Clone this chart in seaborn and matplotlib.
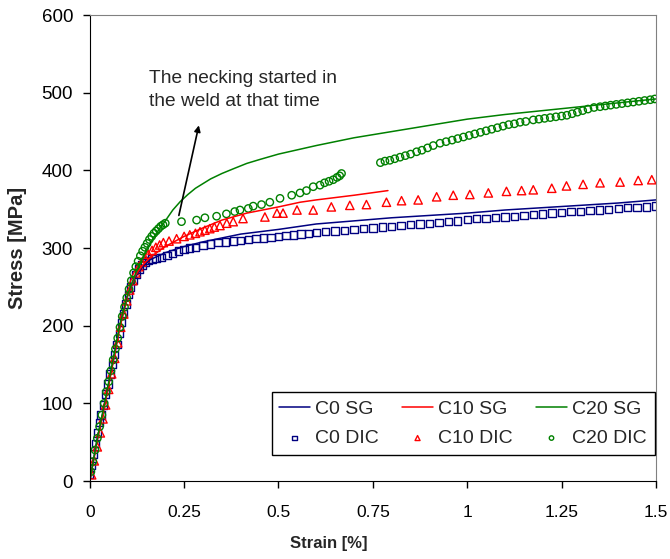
import matplotlib
matplotlib.use('Agg')
import matplotlib.pyplot as plt
import seaborn as sns

# C0 / C10 / C20 strain gauge curves (strain %, stress MPa)
c0_sg_strain = [0, 0.02, 0.04, 0.06, 0.08, 0.1, 0.12, 0.14, 0.16, 0.2, 0.25, 0.3, 0.4, 0.5,
                0.6, 0.7, 0.8, 0.9, 1.0, 1.1, 1.2, 1.3, 1.4, 1.5]
c0_sg_stress = [0, 55, 100, 150, 200, 238, 262, 276, 285, 294, 302, 308, 318, 324,
                331, 335, 339, 342, 345, 349, 352, 355, 358, 362]

c10_sg_strain = [0, 0.02, 0.04, 0.06, 0.08, 0.1, 0.12, 0.14, 0.16, 0.2, 0.25, 0.3, 0.35,
                 0.416, 0.5, 0.557, 0.6, 0.7, 0.79]
c10_sg_stress = [0, 52, 98, 148, 198, 238, 264, 278, 288, 302, 315, 326, 336,
                 345, 353, 359, 362, 368, 374]

c20_sg_strain = [0, 0.02, 0.04, 0.06, 0.08, 0.1, 0.125, 0.15, 0.175, 0.2, 0.22, 0.24, 0.26,
                 0.28, 0.3, 0.32, 0.35, 0.38, 0.416, 0.45, 0.5, 0.6, 0.7, 0.8, 0.9, 1.0,
                 1.1, 1.2, 1.3, 1.4, 1.5]
c20_sg_stress = [0, 55, 102, 152, 202, 240, 272, 298, 318, 335, 349, 360, 369,
                 377, 383, 389, 396, 402, 409, 414, 421, 432, 442, 450, 458, 466,
                 472, 477, 482, 487, 492]

# DIC measurements
c0_dic_strain = [0.0, 0.005, 0.01, 0.015, 0.02, 0.025, 0.03, 0.036, 0.042, 0.048, 0.054, 0.06,
                 0.066, 0.072, 0.078, 0.084, 0.09, 0.096, 0.102, 0.108, 0.115, 0.122, 0.13,
                 0.138, 0.146, 0.155, 0.165, 0.175, 0.19, 0.205, 0.22, 0.235, 0.25, 0.265,
                 0.28, 0.3, 0.32, 0.34, 0.36, 0.38, 0.4, 0.42, 0.44, 0.46, 0.48, 0.5, 0.52,
                 0.54, 0.56, 0.58, 0.6, 0.625, 0.65, 0.675, 0.7, 0.725, 0.75, 0.775, 0.8,
                 0.825, 0.85, 0.875, 0.9, 0.925, 0.95, 0.975, 1.0, 1.025, 1.05, 1.075, 1.1,
                 1.125, 1.15, 1.175, 1.2, 1.225, 1.25, 1.275, 1.3, 1.325, 1.35, 1.375, 1.4,
                 1.425, 1.45, 1.475, 1.5]
c0_dic_stress = [8, 20, 35, 48, 62, 75, 85, 98, 112, 125, 138, 150,
                 163, 176, 190, 204, 216, 228, 240, 250, 258, 266, 273,
                 278, 281, 284, 286, 287, 288, 290, 293, 296, 298, 300,
                 301, 303, 305, 307, 308, 309, 310, 311, 312, 313, 314, 315, 316,
                 317, 318, 319, 320, 321, 322, 323, 324, 325, 326, 327, 328,
                 329, 330, 331, 332, 333, 334, 335, 337, 338, 338, 339, 340,
                 341, 342, 343, 344, 345, 346, 347, 347, 348, 349, 350, 351,
                 352, 352, 353, 354]

c10_dic_strain = [0.005, 0.012, 0.02, 0.028, 0.035, 0.042, 0.05, 0.058, 0.066, 0.074, 0.082,
                  0.09, 0.098, 0.106, 0.114, 0.122, 0.13, 0.138, 0.146, 0.155, 0.165, 0.175,
                  0.185, 0.195, 0.21, 0.23, 0.25, 0.265, 0.28, 0.292, 0.305, 0.318, 0.33,
                  0.345, 0.363, 0.38, 0.406, 0.464, 0.496, 0.512, 0.549, 0.592, 0.640, 0.689,
                  0.733, 0.786, 0.826, 0.870, 0.919, 0.963, 1.007, 1.056, 1.104, 1.144, 1.175,
                  1.224, 1.263, 1.307, 1.352, 1.405, 1.453, 1.489]
c10_dic_stress = [8, 26, 44, 62, 80, 98, 118, 138, 158, 178, 198,
                  215, 232, 246, 258, 268, 276, 282, 287, 292, 297, 301,
                  304, 307, 309, 312, 315, 317, 319, 321, 323, 325, 327,
                  329, 332, 334, 338, 340, 345, 345, 349, 349, 353, 355,
                  356, 359, 361, 362, 366, 368, 369, 371, 373, 374, 375,
                  377, 380, 382, 384, 385, 387, 388]

c20_dic_strain = [0.003, 0.008, 0.014, 0.02, 0.026, 0.032, 0.038, 0.044, 0.05, 0.056, 0.062,
                  0.068, 0.074, 0.08, 0.086, 0.092, 0.098, 0.104, 0.11, 0.116, 0.122, 0.128,
                  0.134, 0.14, 0.146, 0.152, 0.158, 0.164, 0.17, 0.176, 0.182, 0.188, 0.194,
                  0.2, 0.243, 0.283, 0.305, 0.336, 0.362, 0.384, 0.398, 0.42, 0.433, 0.455,
                  0.477, 0.504, 0.535, 0.557, 0.574, 0.592, 0.61, 0.622, 0.634, 0.645, 0.655,
                  0.662, 0.667,
                  0.770, 0.782, 0.795, 0.808, 0.822, 0.836, 0.850, 0.866, 0.880, 0.895, 0.910,
                  0.928, 0.944, 0.960, 0.975, 0.990, 1.005, 1.020, 1.035, 1.050, 1.065, 1.080,
                  1.095, 1.110, 1.125, 1.140, 1.155, 1.175, 1.190, 1.205, 1.220, 1.235, 1.250,
                  1.264, 1.278, 1.292, 1.306, 1.320, 1.336, 1.352, 1.366, 1.380, 1.395, 1.410,
                  1.425, 1.440, 1.455, 1.470, 1.485, 1.497]
c20_dic_stress = [12, 25, 40, 55, 70, 85, 100, 115, 128, 142, 156,
                  170, 184, 198, 212, 224, 236, 247, 258, 268, 276, 283,
                  290, 296, 301, 306, 311, 315, 319, 322, 325, 328, 330,
                  332, 334, 336, 339, 341, 344, 347, 349, 351, 354, 356,
                  359, 364, 368, 371, 374, 379, 381, 384, 386, 388, 391,
                  393, 396,
                  410, 412, 413, 415, 417, 419, 421, 424, 426, 429, 432,
                  435, 437, 439, 441, 443, 445, 447, 449, 451, 453, 455,
                  457, 459, 460, 462, 463, 465, 466, 467, 468, 469, 470,
                  471, 473, 475, 477, 479, 481, 482, 483, 484, 485, 486,
                  487, 488, 489, 490, 491, 492]

sns.set_style("ticks")
plt.rcParams['font.family'] = ['Liberation Sans', 'DejaVu Sans']

fig = plt.figure(figsize=(6.7, 5.59), dpi=100)
ax = fig.add_axes([0.134, 0.1395, 0.845, 0.8335])

sns.lineplot(x=c0_sg_strain, y=c0_sg_stress, sort=False, color='#000080', lw=1.1, label='C0 SG', ax=ax)
sns.scatterplot(x=c0_dic_strain, y=c0_dic_stress, marker='s', s=28, facecolors='none',
                edgecolor='#000080', linewidth=1, label='C0 DIC', ax=ax)
sns.lineplot(x=c10_sg_strain, y=c10_sg_stress, sort=False, color='#FF0000', lw=1.1, label='C10 SG', ax=ax)
sns.scatterplot(x=c10_dic_strain, y=c10_dic_stress, marker='^', s=36, facecolors='none',
                edgecolor='#FF0000', linewidth=1, label='C10 DIC', ax=ax)
sns.lineplot(x=c20_sg_strain, y=c20_sg_stress, sort=False, color='#008000', lw=1.1, label='C20 SG', ax=ax)
sns.scatterplot(x=c20_dic_strain, y=c20_dic_stress, marker='o', s=28, facecolors='none',
                edgecolor='#008000', linewidth=1, label='C20 DIC', ax=ax)

ax.set_xlim(0, 1.5)
ax.set_ylim(0, 600)
ax.set_xticks([0, 0.25, 0.5, 0.75, 1, 1.25, 1.5])
ax.set_xticklabels(['0', '0.25', '0.5', '0.75', '1', '1.25', '1.5'])
ax.set_yticks([0, 100, 200, 300, 400, 500, 600])
ax.tick_params(length=5, width=1, colors='black')
ax.tick_params(axis='x', labelsize=12.5, pad=12)
ax.tick_params(axis='y', labelsize=13.5, pad=7)
ax.set_xlabel('Strain [%]', fontsize=12, fontweight='bold')
ax.set_ylabel('Stress [MPa]', fontsize=14.5, fontweight='bold')
ax.xaxis.set_label_coords(0.422, -0.118)
ax.yaxis.set_label_coords(-0.111, 0.5)
for side in ['left', 'bottom']:
    ax.spines[side].set_color('black')
for side in ['top', 'right']:
    ax.spines[side].set_color('#808080')

ax.text(0.156, 529, 'The necking started in\nthe weld at that time', fontsize=13.8,
        va='top', ha='left', linespacing=1.45)
ax.annotate('', xy=(0.289, 458), xytext=(0.236, 342),
            arrowprops=dict(arrowstyle='-|>', color='black', lw=1.2, shrinkA=0, shrinkB=0,
                            mutation_scale=9))

leg = ax.legend(ncol=3, loc='lower right', bbox_to_anchor=(0.998, 0.056), fontsize=14,
                frameon=True, fancybox=False, edgecolor='black', framealpha=1,
                handlelength=1.55, handletextpad=0.3, columnspacing=1.2, markerscale=0.6,
                borderpad=0.4, labelspacing=0.6, borderaxespad=0)
leg.get_frame().set_linewidth(1)

fig.savefig('out.png', dpi=100)
